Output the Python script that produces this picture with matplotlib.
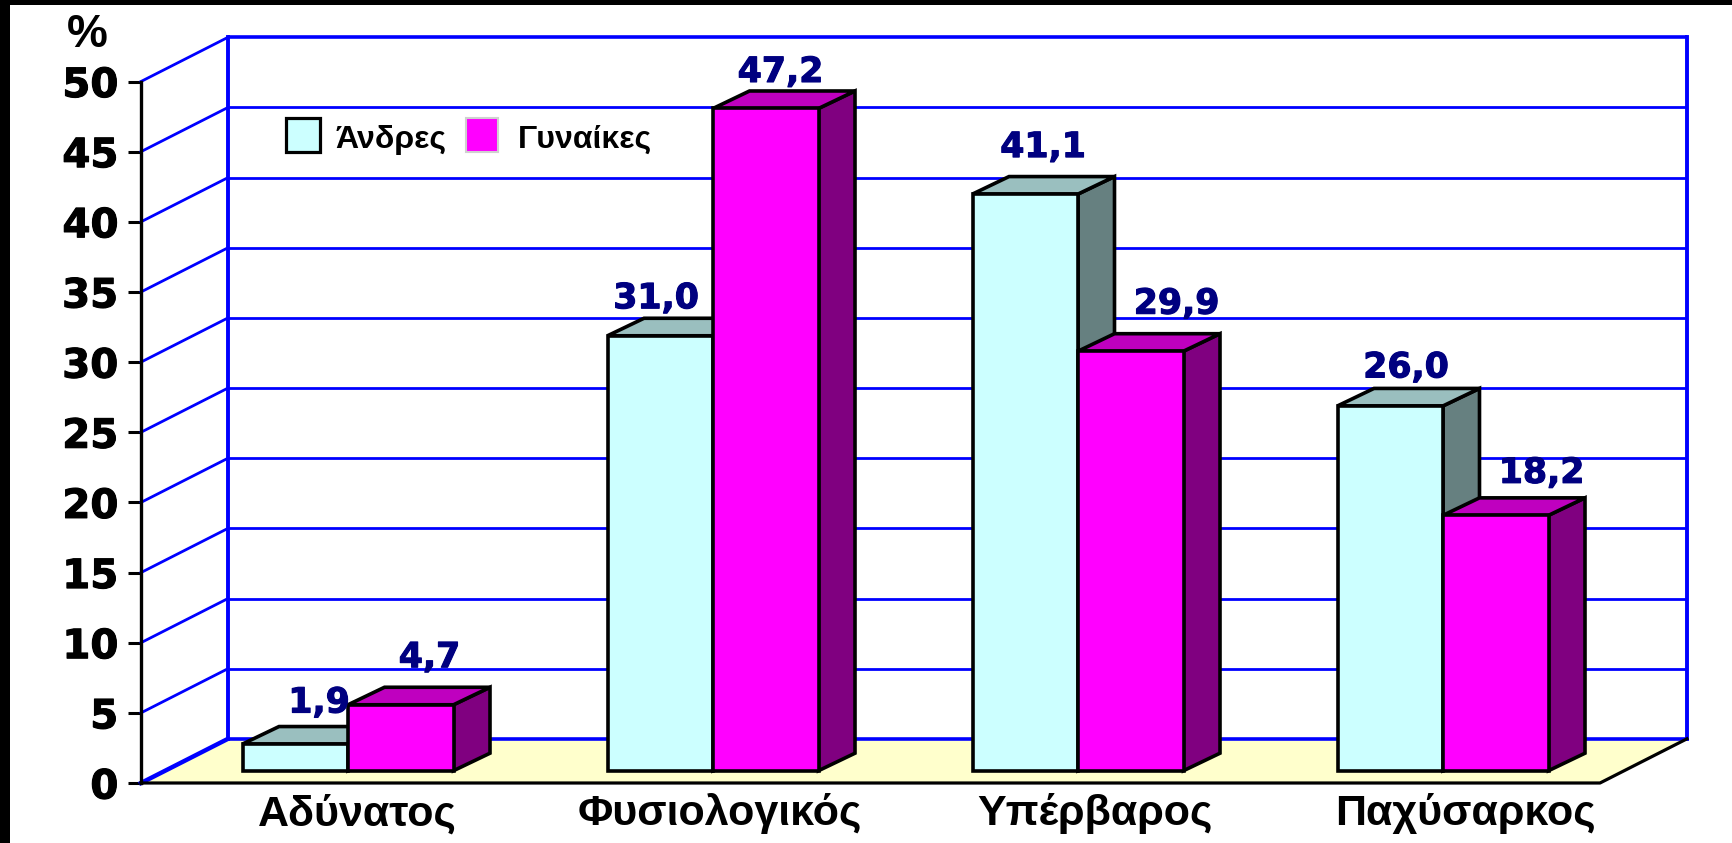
import matplotlib
matplotlib.use('Agg')
import matplotlib.pyplot as plt
from matplotlib.patches import Polygon, Rectangle
import matplotlib.patheffects as pe

categories = ['Αδύνατος', 'Φυσιολογικός', 'Υπέρβαρος', 'Παχύσαρκος']
men = [1.9, 31.0, 41.1, 26.0]
women = [4.7, 47.2, 29.9, 18.2]
y_ticks = [0, 5, 10, 15, 20, 25, 30, 35, 40, 45, 50]
series_names = ['Άνδρες', 'Γυναίκες']

W, H = 1733, 843
# one category = 365 px, one percent = 14.03 px
UX, UY = 365.0, 14.03
X0, Y0 = 348.0, 783.0

def px(x):
    return (x - X0) / UX

def py(y):
    return (Y0 - y) / UY

men_cols = ['#CCFFFF', '#9ABFBF', '#668080']
women_cols = ['#FF00FF', '#BF00BF', '#800080']
blue = '#0000FF'

fig = plt.figure(figsize=(W / 100, H / 100), dpi=100, facecolor='white')
ax = fig.add_axes([0, 0, 1, 1])
ax.set_xlim(px(0), px(W))
ax.set_ylim(py(H), py(0))
ax.patch.set_visible(False)

# walls depth, in axis units
left = px(141)
wall_dx = 87 / UX
wall_dy = 44.2 / UY
right = px(1600)

# floor
ax.add_patch(Polygon([(left, 0), (left + wall_dx, wall_dy), (right + wall_dx, wall_dy), (right, 0)],
                     closed=True, fc='#FFFFCC', ec='none', zorder=1))

# back wall and side wall lines
for t in y_ticks:
    lw = 2.6 if t in (0, 50) else 2.0
    ax.plot([left + wall_dx, right + wall_dx], [t + wall_dy, t + wall_dy], color=blue, lw=lw, zorder=2,
            solid_capstyle='butt')
    ax.plot([left, left + wall_dx], [t, t + wall_dy], color=blue, lw=3.2 if t == 0 else 2.0, zorder=2)
ax.plot([left + wall_dx] * 2, [wall_dy, 50 + wall_dy], color=blue, lw=2.8, zorder=2)
ax.plot([right + wall_dx] * 2, [wall_dy, 50 + wall_dy], color=blue, lw=2.8, zorder=2)

# floor front edges
ax.plot([left, right, right + wall_dx], [0, 0, wall_dy], color='black', lw=2.3, zorder=3)

# bars
bar_w = 105.5 / UX
base = 12.3 / UY
dep_x = 36.5 / UX
dep_y = 17.5 / UY
shift = [0, 0, 0, 0]

def bar3d(x, v, cols, z):
    b = base
    t = base + v
    front = [(x, b), (x + bar_w, b), (x + bar_w, t), (x, t)]
    top = [(x, t), (x + bar_w, t), (x + bar_w + dep_x, t + dep_y), (x + dep_x, t + dep_y)]
    side = [(x + bar_w, b), (x + bar_w + dep_x, b + dep_y), (x + bar_w + dep_x, t + dep_y), (x + bar_w, t)]
    for pts, c in ((side, cols[2]), (top, cols[1]), (front, cols[0])):
        ax.add_patch(Polygon(pts, closed=True, fc=c, ec='black', lw=2.6, joinstyle='miter', zorder=z))

for i in range(len(categories)):
    c = i + shift[i]
    bar3d(c - bar_w, men[i], men_cols, 5 + i)
    bar3d(c, women[i], women_cols, 5 + i)

# value labels, nudged by hand from the bar corner (px)
men_off = [(-29, 24), (-57, 20), (-35, 29.5), (-37, 21)]
women_off = [(-24, 30), (-38, 19), (-7, 30), (-7, 25)]
for i in range(len(categories)):
    c = i + shift[i]
    for v, off, xx in ((men[i], men_off[i], c), (women[i], women_off[i], c + bar_w)):
        s = ('%.1f' % v).replace('.', ',')
        ax.text(xx + off[0] / UX, base + v + dep_y + off[1] / UY, s, color='#000080', family='DejaVu Sans',
                fontweight='bold', fontsize=25, ha='center', va='center', zorder=20,
                path_effects=[pe.withStroke(linewidth=0.8, foreground='#000080')])

# y axis on the front edge
for s in ('top', 'right', 'bottom'):
    ax.spines[s].set_visible(False)
ax.spines['left'].set_position(('data', left))
ax.spines['left'].set_bounds(0, 50)
ax.spines['left'].set_linewidth(2.4)
ax.spines['left'].set_zorder(4)
ax.set_xticks([])
ax.set_yticks(y_ticks)
ax.set_yticklabels([str(t) for t in y_ticks], family='DejaVu Sans', fontweight='bold', fontsize=29,
                   path_effects=[pe.withStroke(linewidth=0.8, foreground='black')])
ax.tick_params(axis='y', direction='out', length=9.4, width=2.2, pad=7)

ax.text(px(87), py(35), '%', family='Liberation Sans', fontweight='bold', fontsize=33,
        ha='center', va='center')

# category names
label_x = [357, 720, 1095, 1465]
for name, x in zip(categories, label_x):
    ax.text(px(x), py(814), name, family='Liberation Sans', fontweight='bold', fontsize=31,
            ha='center', va='center')

# legend
ax.add_patch(Rectangle((px(286), py(152)), 34 / UX, 34 / UY, fc=men_cols[0], ec='black', lw=2.3, zorder=6))
ax.add_patch(Rectangle((px(466), py(152)), 32 / UX, 34 / UY, fc=women_cols[0], ec='#D0D0D0', lw=1.5, zorder=6))
ax.text(px(335), py(140), series_names[0], family='Liberation Sans', fontweight='bold', fontsize=23,
        ha='left', va='center', zorder=6)
ax.text(px(518), py(140), series_names[1], family='Liberation Sans', fontweight='bold', fontsize=23,
        ha='left', va='center', zorder=6)

# black frame strips left and top of the picture
fig.patches.append(Rectangle((0, 0), 10 / W, 1, transform=fig.transFigure, fc='black', ec='none'))
fig.patches.append(Rectangle((0, 1 - 4.5 / H), 1, 4.5 / H, transform=fig.transFigure, fc='black', ec='none'))

fig.savefig('out.png', dpi=100)
